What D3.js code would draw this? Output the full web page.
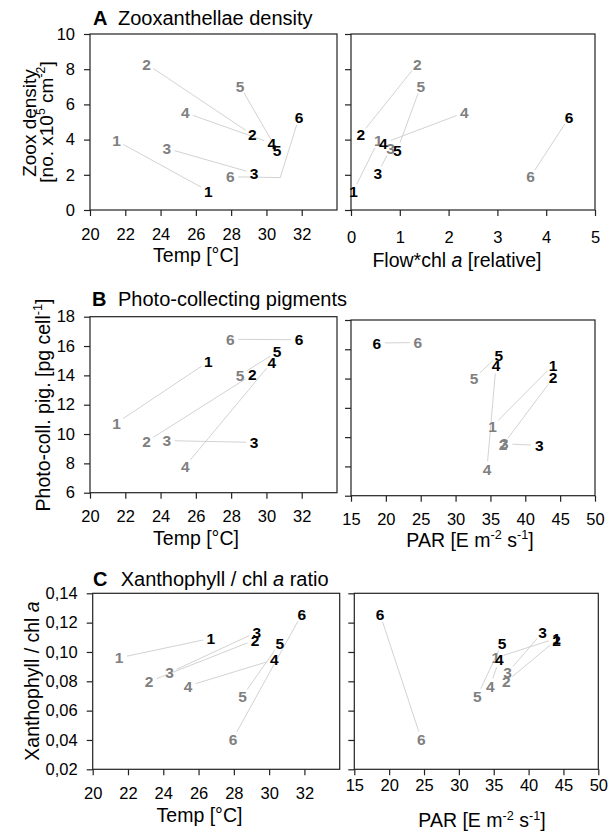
<!DOCTYPE html>
<html>
<head>
<meta charset="utf-8">
<script src="https://cdn.jsdelivr.net/npm/d3@7"></script>
<style>
  body { margin: 0; background: #fff; }
  svg { display: block; font-family: "Liberation Sans", Arial, Helvetica, sans-serif; }
</style>
</head>
<body>
<svg id="chart" width="609" height="832"></svg>
<script>
"use strict";

// point ids (gray = first survey, black = second survey)
const pointIds = ["1", "2", "3", "4", "5", "6"];

const tempStart = [21.5, 23.2, 24.35, 25.4, 28.5, 27.95];
const tempEnd   = [26.7, 29.2, 29.3, 30.3, 30.6, 31.85];

const parStart = [35.3, 36.8, 37.0, 34.5, 32.65, 24.6];
const parEnd   = [44.0, 44.0, 42.0, 35.8, 36.2, 18.7];

const flowStart = [0.56, 1.36, 0.81, 2.32, 1.43, 3.68];
const flowEnd   = [0.05, 0.20, 0.55, 0.66, 0.95, 4.47];

const zooxStart = [3.94, 8.30, 3.50, 5.53, 7.05, 1.89];
const zooxEnd   = [1.08, 4.28, 2.08, 3.79, 3.41, 5.27];

const pigStart = [10.75, 9.48, 9.55, 7.82, 14.02, 16.46];
const pigEnd   = [14.93, 14.05, 9.43, 14.90, 15.60, 16.43];

const xanStart = [0.0960, 0.0798, 0.0859, 0.0768, 0.0700, 0.0407];
const xanEnd   = [0.1093, 0.1082, 0.1135, 0.0948, 0.1059, 0.1257];

// leader bend of site 6 in the temp / zoox panel
const zooxTempBend6 = [30.78, 1.84];

const TICK_FS = 16.5;
const AXIS_FS = 19.5;
const TITLE_FS = 20;
const LABEL_FS = 15.5;
const GRAY = "#808080";
const LINE_COLOR = "#c6c6c6";

const svg = d3.select("#chart");

const commaFmt = d => d3.format(".2f")(d).replace(".", ",");

const panels = [
  { xs: [tempStart, tempEnd], ys: [zooxStart, zooxEnd], bend: {5: zooxTempBend6},
    xDom: [20, 34], yDom: [0, 10], xTicks: d3.range(20, 33, 2), yTicks: d3.range(0, 11, 2),
    box: [90, 34, 337, 210], labelY: true, xPad: 18, yFmt: d3.format("d") },
  { xs: [flowStart, flowEnd], ys: [zooxStart, zooxEnd],
    xDom: [0, 5], yDom: [0, 10], xTicks: d3.range(0, 6, 1), yTicks: d3.range(0, 11, 2),
    box: [351, 34, 595, 210], labelY: false, xPad: 21 },
  { xs: [tempStart, tempEnd], ys: [pigStart, pigEnd],
    xDom: [20, 34], yDom: [6, 18], xTicks: d3.range(20, 33, 2), yTicks: d3.range(6, 19, 2),
    box: [90, 316.7, 337, 492.7], labelY: true, xPad: 18, yFmt: d3.format("d") },
  { xs: [parStart, parEnd], ys: [pigStart, pigEnd],
    xDom: [15, 50], yDom: [6, 18], xTicks: d3.range(15, 51, 5), yTicks: d3.range(6, 19, 2),
    box: [351, 320, 595, 495.7], labelY: false, xPad: 18 },
  { xs: [tempStart, tempEnd], ys: [xanStart, xanEnd],
    xDom: [20, 34], yDom: [0.02, 0.14], xTicks: d3.range(20, 33, 2), yTicks: d3.range(0.02, 0.141, 0.02),
    box: [92.7, 593.3, 339.7, 769.3], labelY: true, xPad: 17.5, yFmt: commaFmt },
  { xs: [parStart, parEnd], ys: [xanStart, xanEnd],
    xDom: [15, 50], yDom: [0.02, 0.14], xTicks: d3.range(15, 51, 5), yTicks: d3.range(0.02, 0.141, 0.02),
    box: [354.3, 593.3, 598.3, 769.3], labelY: false, xPad: 10 }
];

// trim a polyline at both ends so it stops short of the labels
function trimmed(pts, r) {
  const out = pts.map(p => p.slice());
  const cut = (a, b) => {
    const dx = b[0] - a[0], dy = b[1] - a[1], L = Math.hypot(dx, dy);
    if (L < 1e-6) return a;
    const k = Math.min(r / L, 0.45);
    return [a[0] + dx * k, a[1] + dy * k];
  };
  out[0] = cut(pts[0], pts[1]);
  out[out.length - 1] = cut(pts[pts.length - 1], pts[pts.length - 2]);
  return out;
}

function drawPanel(p) {
  const g = svg.append("g");
  const [x0, y0, x1, y1] = p.box;
  const x = d3.scaleLinear().domain(p.xDom).range([x0, x1]);
  const y = d3.scaleLinear().domain(p.yDom).range([y1, y0]);

  const xa = g.append("g")
    .attr("transform", `translate(0,${y1})`)
    .call(d3.axisBottom(x).tickValues(p.xTicks).tickSize(6).tickSizeOuter(0)
      .tickPadding(p.xPad - 6).tickFormat(d3.format("d")));
  xa.attr("font-family", null).attr("font-size", TICK_FS);
  xa.select(".domain").remove();
  xa.selectAll("line").attr("stroke", "#222").attr("stroke-width", 1.2);
  xa.selectAll("text").attr("fill", "#000");

  const ya = g.append("g")
    .attr("transform", `translate(${x0},0)`)
    .call(d3.axisLeft(y).tickValues(p.yTicks).tickSize(6).tickSizeOuter(0)
      .tickPadding(9).tickFormat(p.labelY ? p.yFmt : ""));
  ya.attr("font-family", null).attr("font-size", TICK_FS);
  ya.select(".domain").remove();
  ya.selectAll("line").attr("stroke", "#222").attr("stroke-width", 1.2);
  ya.selectAll("text").attr("fill", "#000");

  g.append("rect")
    .attr("x", x0).attr("y", y0)
    .attr("width", x1 - x0).attr("height", y1 - y0)
    .attr("fill", "none").attr("stroke", "#222").attr("stroke-width", 1.2);

  const rows = pointIds.map((id, i) => {
    const pts = [[x(p.xs[0][i]), y(p.ys[0][i])]];
    if (p.bend && p.bend[i]) pts.push([x(p.bend[i][0]), y(p.bend[i][1])]);
    pts.push([x(p.xs[1][i]), y(p.ys[1][i])]);
    return { id, pts };
  });

  g.append("g").selectAll("path")
    .data(rows)
    .join("path")
    .attr("d", d => d3.line()(trimmed(d.pts, 8)))
    .attr("fill", "none")
    .attr("stroke", LINE_COLOR)
    .attr("stroke-width", 0.8);

  [0, 1].forEach(k => {
    g.append("g").selectAll("text")
      .data(rows)
      .join("text")
      .attr("x", d => k === 0 ? d.pts[0][0] : d.pts[d.pts.length - 1][0])
      .attr("y", d => k === 0 ? d.pts[0][1] : d.pts[d.pts.length - 1][1])
      .attr("dy", "0.36em")
      .attr("text-anchor", "middle")
      .attr("font-size", LABEL_FS)
      .attr("font-weight", "bold")
      .attr("fill", k === 0 ? GRAY : "#000")
      .text(d => d.id);
  });
}

panels.forEach(drawPanel);

// text with bold / italic / superscript pieces
function rich(sel, parts, fs) {
  let raised = false;
  parts.forEach(pt => {
    const t = sel.append("tspan").text(pt.t);
    if (pt.x !== undefined) t.attr("x", pt.x);
    if (pt.b) t.attr("font-weight", "bold");
    if (pt.i) t.attr("font-style", "italic");
    if (pt.sup) {
      t.attr("font-size", fs * 0.65);
      if (!raised) t.attr("dy", -0.38 * fs);
      raised = true;
    } else if (raised) {
      t.attr("dy", 0.38 * fs);
      raised = false;
    }
  });
  return sel;
}

function label(xp, yp, parts, fs, opts = {}) {
  const t = svg.append("text")
    .attr("font-size", fs)
    .attr("fill", "#000")
    .attr("text-anchor", opts.anchor || "middle");
  if (opts.rotate) t.attr("transform", `translate(${xp},${yp}) rotate(-90)`);
  else t.attr("x", xp).attr("y", yp);
  return rich(t, parts, fs);
}

// panel titles
label(93, 25, [{ t: "A", b: true }, { t: "Zooxanthellae density", x: 118 }], TITLE_FS, { anchor: "start" });
label(92, 306, [{ t: "B", b: true }, { t: "Photo-collecting pigments", x: 118 }], TITLE_FS, { anchor: "start" });
label(93, 586, [{ t: "C", b: true }, { t: "Xanthophyll / chl ", x: 120.7 }, { t: "a", i: true }, { t: " ratio" }],
  TITLE_FS, { anchor: "start" });

// x axis titles
const tempTitle = [{ t: "Temp [°C]" }];
const parTitle = [{ t: "PAR [E m" }, { t: "-2", sup: true }, { t: " s" }, { t: "-1", sup: true }, { t: "]" }];
label(196, 262, tempTitle, AXIS_FS);
label(457, 266.5, [{ t: "Flow*chl " }, { t: "a", i: true }, { t: " [relative]" }], AXIS_FS);
label(196, 545, tempTitle, AXIS_FS);
label(470, 546.5, parTitle, AXIS_FS);
label(199.5, 821.5, tempTitle, AXIS_FS);
label(482, 827, parTitle, AXIS_FS);

// y axis titles
label(35.5, 123, [{ t: "Zoox density" }], 19, { rotate: true });
label(52.5, 122, [{ t: "[no. x10" }, { t: "5", sup: true }, { t: " cm" }, { t: "-2", sup: true }, { t: "]" }],
  19, { rotate: true });
label(49.5, 405, [{ t: "Photo-coll. pig. [pg cell" }, { t: "-1", sup: true }, { t: "]" }], AXIS_FS, { rotate: true });
label(38.7, 681, [{ t: "Xanthophyll / chl " }, { t: "a", i: true }], AXIS_FS, { rotate: true });
</script>
</body>
</html>
